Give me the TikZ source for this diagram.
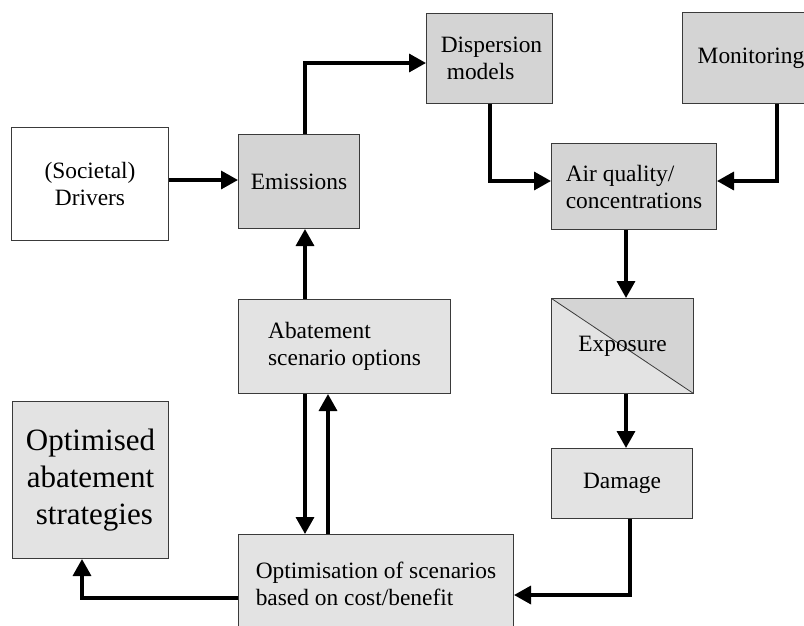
\documentclass[tikz,border=0pt]{standalone}
\usepackage{fontspec}
\setmainfont{Liberation Serif}
\usetikzlibrary{arrows.meta}

\definecolor{boxdark}{HTML}{D4D4D4}
\definecolor{boxlight}{HTML}{E3E3E3}
\definecolor{boxedge}{HTML}{3A3A3A}

\tikzset{
  box/.style={draw=boxedge, line width=1pt, anchor=north west,
    inner sep=0pt, font=\fontsize{23.4}{27}\selectfont},
  dark/.style={box, fill=boxdark},
  light/.style={box, fill=boxlight},
  plain/.style={box, fill=white},
  size/.style n args={2}{minimum width=#1pt, minimum height=#2pt},
  flow/.style={line width=3.4pt, -{Triangle[length=17pt,width=18pt]}},
}

\begin{document}
\begin{tikzpicture}[x=1pt, y=-1pt]
  \useasboundingbox (0,0) rectangle (804,625);
  \clip (0,0) rectangle (804,625);

  % boxes (top-left corner, width, height)
  \node[plain, size={157}{113}, align=center] (drivers) at (11,127) {(Societal)\\Drivers};
  \node[dark,  size={121}{94}] (emis) at (238,134) {Emissions};
  \node[dark,  size={126}{90}, align=left] (disp) at (426,13)
        {\hspace*{4pt}Dispersion\\\hspace*{10pt}models};
  \node[dark,  size={137}{91}] (mon) at (682,12) {Monitoring};
  \node[dark,  size={165}{86}, align=left] (airq) at (551,143) {Air quality/\\concentrations};
  \node[box, fill=boxlight, size={142}{95},
        path picture={
          \fill[boxdark] (path picture bounding box.north west)
            -- (path picture bounding box.north east)
            -- (path picture bounding box.south east) -- cycle;
          \draw[line width=0.8pt] (path picture bounding box.north west)
            -- (path picture bounding box.south east);
        }] (expo) at (551,298) {Exposure};
  \node[light, size={141}{70}] (dam) at (551,448) {Damage};
  \node[light, size={212}{94}, align=left] (abat) at (238,299) {Abatement\\scenario options};
  \node[light, size={156}{157}, align=center,
        font=\fontsize{31}{37}\selectfont] (optd) at (12,401)
        {Optimised\\abatement\\\hspace*{.25em}strategies};
  \node[light, size={275}{99}, align=left] (opt) at (238,534)
        {Optimisation of scenarios\\based on cost/benefit};

  % bend points of the connectors
  \coordinate (k0) at (0,180);
  \coordinate (k1) at (305,63);
  \coordinate (k2) at (490,181);
  \coordinate (k3) at (777,181);
  \coordinate (k4) at (626,0);
  \coordinate (k5) at (630,595);
  \coordinate (k6) at (82,598);
  \coordinate (k7) at (305,0);
  \coordinate (k8) at (328,0);

  % connectors
  \draw[flow] (drivers.east |- k0) -- (emis.west |- k0);
  \draw[flow] (emis.north -| k1) |- (disp.west |- k1);
  \draw[flow] (disp.south -| k2) |- (airq.west |- k2);
  \draw[flow] (mon.south -| k3) |- (airq.east |- k3);
  \draw[flow] (airq.south -| k4) -- (expo.north -| k4);
  \draw[flow] (expo.south -| k4) -- (dam.north -| k4);
  \draw[flow] (dam.south -| k5) |- (opt.east |- k5);
  \draw[flow] (opt.west |- k6) -| (optd.south -| k6);
  \draw[flow] (abat.north -| k7) -- (emis.south -| k7);
  \draw[flow] (abat.south -| k7) -- (opt.north -| k7);
  \draw[flow] (opt.north -| k8) -- (abat.south -| k8);
\end{tikzpicture}
\end{document}
